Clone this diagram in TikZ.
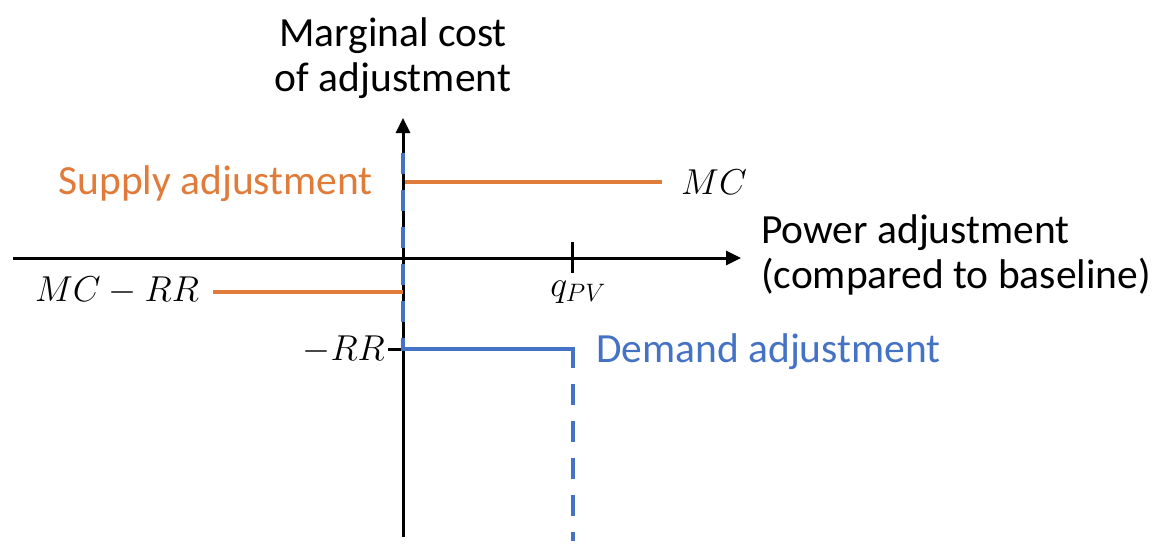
\RequirePackage{fix-cm}
\documentclass[tikz,border=0pt]{standalone}
\usepackage{fontspec}
\setmainfont{Carlito}
\usepackage{xcolor}
\usetikzlibrary{arrows.meta,positioning,calc}
\definecolor{supplyorange}{HTML}{E07B39}
\definecolor{demandblue}{HTML}{4472C4}

\begin{document}
\begin{tikzpicture}[x=1pt,y=-1pt,
    axis/.style={line width=3pt,-{Triangle[width=14pt,length=15pt]}},
    supply/.style={line width=4.8pt,supplyorange},
    demand/.style={line width=4.8pt,demandblue},
    demanddash/.style={demand,dash pattern=on 21pt off 16pt},
    lbl/.style={font=\fontsize{41.5}{45}\selectfont,inner sep=0pt},
    mlbl/.style={font=\fontsize{36}{40}\selectfont,inner sep=0pt}]
    \useasboundingbox (0,0) rectangle (1172,558);
    \coordinate (yb) at (403,537);
    \coordinate (yt) at (403,118);
    \coordinate (xl) at (13,258);
    \coordinate (xr) at (741,258);
    \coordinate (qt) at (572,242);
    \coordinate (qb) at (572,273);
    \coordinate (mc0) at (405,182);
    \coordinate (mc1) at (662,182);
    \coordinate (mr0) at (213,292);
    \coordinate (mr1) at (403,292);
    \coordinate (rr0) at (388,349);
    \coordinate (rr1) at (422,349);
    \coordinate (d0) at (405,349);
    \coordinate (d1) at (573,349);
    \coordinate (d2) at (573,541);
    \coordinate (ya) at (403,153);
    \coordinate (yc) at (403,351);
    \draw[axis] (yb) -- (yt);
    \draw[axis] (xl) -- (xr);
    \draw[line width=3pt] (qt) -- (qb);
    \draw[line width=3pt] (rr0) -- (rr1);
    \draw[supply] (mc0) -- (mc1);
    \draw[supply] (mr0) -- (mr1);
    \draw[demanddash] (ya) -- (yc);
    \draw[demand] (d0) -- ($(d1)+(2.4,0)$);
    \draw[demanddash] ($(d1)+(0,-2.4)$) -- (d2);
    \node[lbl,align=center] (ylab) at (393,58) {Marginal cost\\of adjustment};
    \node[lbl,align=left,anchor=west] (xlab) at (761,255) {Power adjustment\\(compared to baseline)};
    \node[lbl,supplyorange,anchor=east] (slab) at (373,184) {Supply adjustment};
    \node[lbl,demandblue,anchor=west] (dlab) at (596,352) {Demand adjustment};
    \node[mlbl] (mclab) at (714,182) {$MC$};
    \node[mlbl] (mrlab) at (117,291) {$MC-RR$};
    \node[mlbl,anchor=east] (rrlab) at (385,350) {$-RR$};
    \node[mlbl] (qlab) at (578,292) {$q_{PV}$};
\end{tikzpicture}
\end{document}
